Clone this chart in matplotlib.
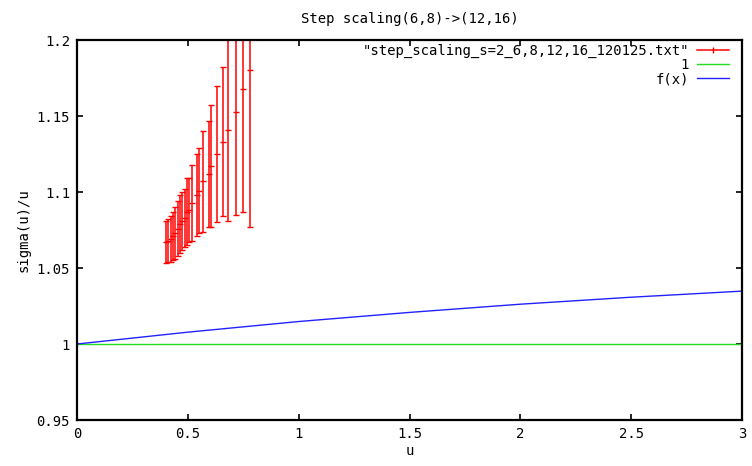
import numpy as np
import matplotlib
matplotlib.use("Agg")
import matplotlib.pyplot as plt
from matplotlib.lines import Line2D

# data
u = [0.401, 0.412, 0.422, 0.433, 0.444, 0.454, 0.465, 0.475, 0.486, 0.496,
     0.507, 0.519, 0.540, 0.552, 0.567, 0.594, 0.604, 0.630, 0.657, 0.683,
     0.717, 0.747, 0.780]
ratio = [1.067, 1.068, 1.069, 1.071, 1.073, 1.076, 1.079, 1.081, 1.083, 1.087,
         1.088, 1.093, 1.098, 1.101, 1.107, 1.112, 1.117, 1.125, 1.133, 1.141,
         1.153, 1.168, 1.180]
err = [0.014, 0.014, 0.015, 0.016, 0.017, 0.018, 0.019, 0.019, 0.019, 0.022,
       0.021, 0.025, 0.027, 0.028, 0.033, 0.035, 0.040, 0.045, 0.049, 0.060,
       0.068, 0.081, 0.103]

f_u = [0.0, 0.5, 1.0, 1.5, 2.0, 2.5, 3.0]
f_val = [1.0, 1.0078, 1.0148, 1.0208, 1.0262, 1.0308, 1.0348]

labels = ['"step_scaling_s=2_6,8,12,16_120125.txt"', '1', 'f(x)']

plt.rcParams['font.family'] = ['DejaVu Sans Mono']
plt.rcParams['font.size'] = 10

fig = plt.figure(figsize=(7.52, 4.66), dpi=100)
ax = fig.add_axes([0.1024, 0.0987, 0.8843, 0.8153])

ax.errorbar(u, ratio, yerr=err, fmt='_', color='#ff0000', ecolor='#ff0000',
            elinewidth=1.1, capsize=2.5, capthick=1, markersize=5, mew=1)
ax.plot([0, 3], [1, 1], color='#22dd22', lw=1)
ax.plot(f_u, f_val, color='#2222ff', lw=1)

ax.set_xlim(0, 3)
ax.set_ylim(0.95, 1.2)
ax.set_xticks([0, 0.5, 1, 1.5, 2, 2.5, 3])
ax.set_xticklabels(['0', '0.5', '1', '1.5', '2', '2.5', '3'])
ax.set_yticks([0.95, 1, 1.05, 1.1, 1.15, 1.2])
ax.set_yticklabels(['0.95', '1', '1.05', '1.1', '1.15', '1.2'])
ax.tick_params(direction='in', top=True, right=True, length=4, width=1.2,
               labelsize=10, pad=5)
for s in ax.spines.values():
    s.set_linewidth(1.6)

ax.set_title('Step scaling(6,8)->(12,16)', fontsize=10, pad=12)
ax.set_xlabel('u', labelpad=2)
ax.set_ylabel('sigma(u)/u', labelpad=4)

handles = [Line2D([], [], color='#ff0000', lw=1.1, marker='|', markersize=4, mew=1),
           Line2D([], [], color='#22dd22', lw=1),
           Line2D([], [], color='#2222ff', lw=1)]
ax.legend(handles, labels, loc='upper right', bbox_to_anchor=(0.985, 0.997),
          frameon=False, markerfirst=False, handlelength=2.3, borderaxespad=0.0,
          labelspacing=0.0, handletextpad=0.6, borderpad=0.2, fontsize=10)

fig.savefig('out.png', dpi=100)
